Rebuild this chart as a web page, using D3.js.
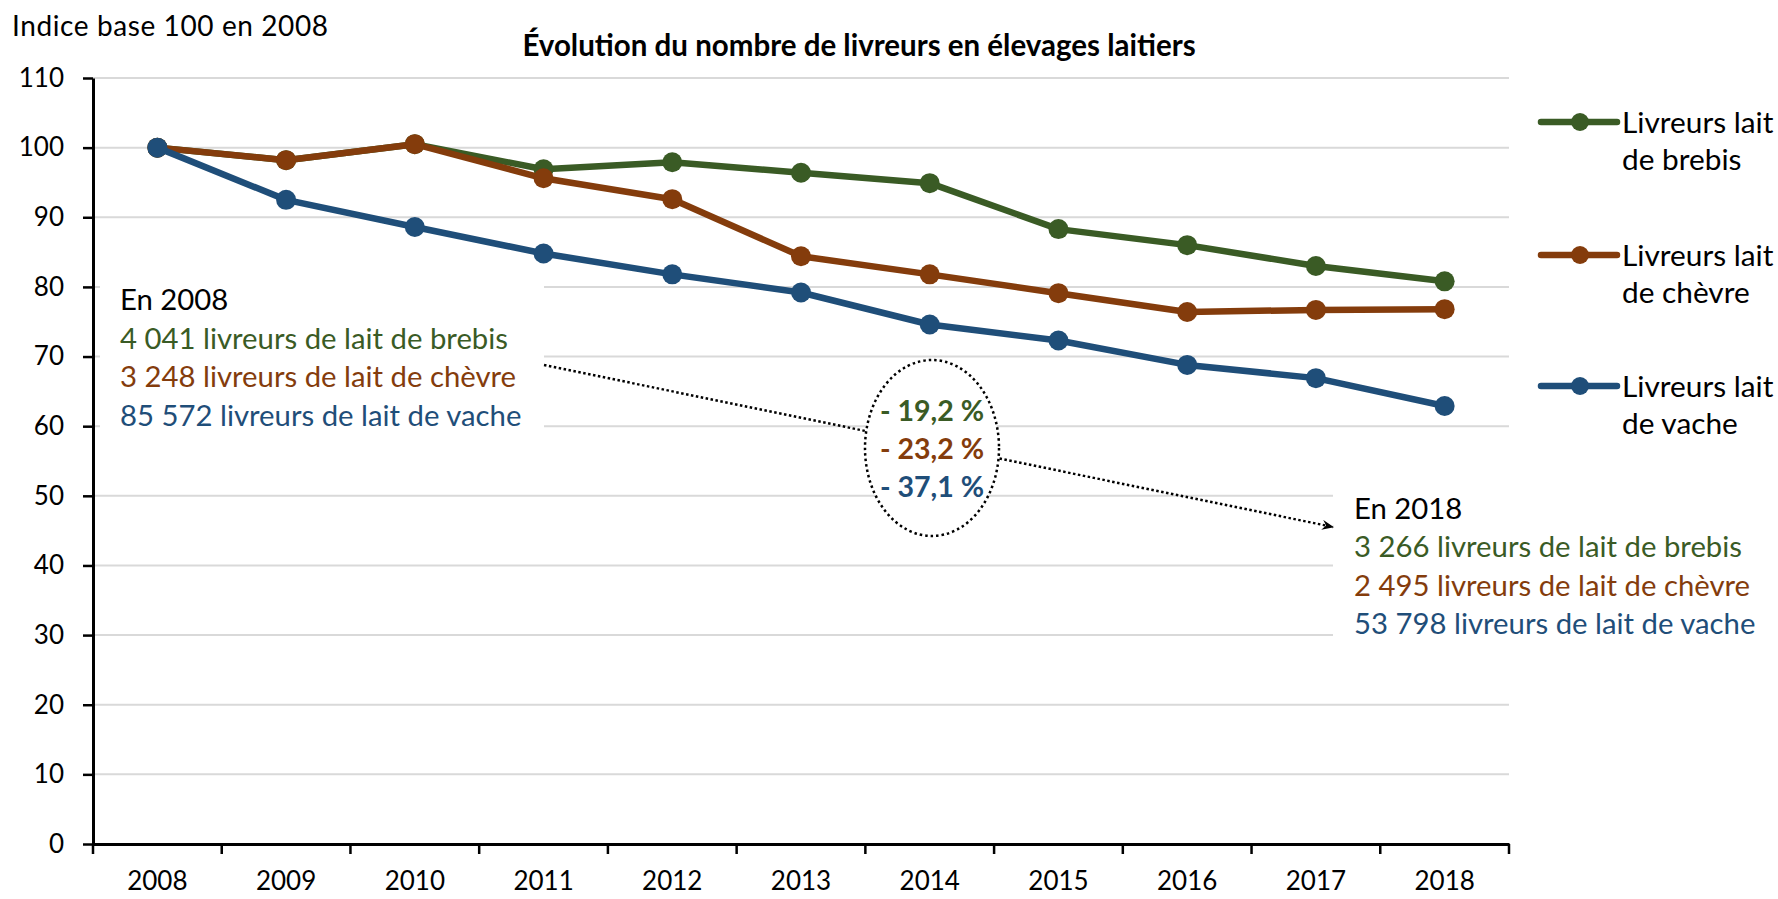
<!DOCTYPE html>
<html>
<head>
<meta charset="utf-8">
<script src="https://cdn.jsdelivr.net/npm/d3@7"></script>
<style>
  html, body { margin: 0; padding: 0; background: #fff; }
  svg { display: block; font-family: Lato, "Open Sans", sans-serif; }
</style>
</head>
<body>
<svg id="chart" width="1778" height="899"></svg>
<script>
// ---------- data ----------
const years = ["2008","2009","2010","2011","2012","2013","2014","2015","2016","2017","2018"];
const brebis = [100, 98.2, 100.5, 96.9, 97.9, 96.4, 94.9, 88.3, 86.0, 83.0, 80.8];
const chevre = [100, 98.2, 100.5, 95.6, 92.6, 84.4, 81.8, 79.1, 76.4, 76.7, 76.8];
const vache  = [100, 92.5, 88.6, 84.8, 81.8, 79.2, 74.6, 72.3, 68.8, 66.9, 62.9];
const yTicks = [0,10,20,30,40,50,60,70,80,90,100,110];
const seriesLabels = [["Livreurs lait","de brebis"],["Livreurs lait","de chèvre"],["Livreurs lait","de vache"]];
const seriesColors = ["#3a5b25", "#843c0c", "#1f4e79"];
const text2008 = ["En 2008","4 041 livreurs de lait de brebis","3 248 livreurs de lait de chèvre","85 572 livreurs de lait de vache"];
const text2018 = ["En 2018","3 266 livreurs de lait de brebis","2 495 livreurs de lait de chèvre","53 798 livreurs de lait de vache"];
const changes = ["- 19,2 %","- 23,2 %","- 37,1 %"];
const textColors = ["#000000", "#3a5b25", "#843c0c", "#1f4e79"];
const titleText = "Évolution du nombre de livreurs en élevages laitiers";
const yAxisTitle = "Indice base 100 en 2008";

const series = [brebis, chevre, vache];

// ---------- layout ----------
const svg = d3.select("#chart");
const plotLeft = 93, plotRight = 1509, plotTop = 78, plotBottom = 844;

const x = d3.scaleBand().domain(years).range([plotLeft, plotRight]).padding(0);
const y = d3.scaleLinear().domain([0, 110]).range([plotBottom, plotTop]);
const cx = d => x(d) + x.bandwidth() / 2;

// gridlines
svg.append("g").selectAll("line")
  .data(yTicks.filter(t => t > 0))
  .join("line")
  .attr("x1", plotLeft).attr("x2", plotRight)
  .attr("y1", d => y(d)).attr("y2", d => y(d))
  .attr("stroke", "#d9d9d9").attr("stroke-width", 2);

// white boxes behind annotation texts
svg.append("rect").attr("x", 100).attr("y", 272).attr("width", 444).attr("height", 168).attr("fill", "#fff");
svg.append("rect").attr("x", 1333).attr("y", 480).attr("width", 240).attr("height", 170).attr("fill", "#fff");

// dotted arrow
svg.append("defs").append("marker")
  .attr("id", "arrow").attr("viewBox", "0 0 12 10").attr("refX", 11).attr("refY", 5)
  .attr("markerWidth", 12).attr("markerHeight", 10).attr("markerUnits", "userSpaceOnUse")
  .attr("orient", "auto")
  .append("path").attr("d", "M0,0 L12,5 L0,10 L4,5 Z").attr("fill", "#000");
svg.append("line")
  .attr("x1", 544).attr("y1", 365).attr("x2", 1333).attr("y2", 527)
  .attr("stroke", "#000").attr("stroke-width", 2.5)
  .attr("stroke-dasharray", "2.5 2.5")
  .attr("marker-end", "url(#arrow)");

// ellipse
svg.append("ellipse")
  .attr("cx", 932).attr("cy", 448).attr("rx", 67).attr("ry", 88)
  .attr("fill", "#fff").attr("stroke", "#000").attr("stroke-width", 2.5)
  .attr("stroke-dasharray", "2.5 3");

svg.append("g").selectAll("text").data(changes).join("text")
  .attr("x", 932).attr("y", (d, i) => 421 + i * 38)
  .attr("text-anchor", "middle")
  .attr("font-size", 28.5).attr("font-weight", "bold")
  .attr("fill", (d, i) => seriesColors[i])
  .text(d => d);

// annotation text blocks
svg.append("g").selectAll("text").data(text2008).join("text")
  .attr("x", 120).attr("y", (d, i) => 310 + i * 38.5)
  .attr("font-size", 29.3).attr("fill", (d, i) => textColors[i])
  .text(d => d);
svg.append("g").selectAll("text").data(text2018).join("text")
  .attr("x", 1354).attr("y", (d, i) => 519 + i * 38.3)
  .attr("font-size", 29.3).attr("fill", (d, i) => textColors[i])
  .text(d => d);

// axes
const yAxis = svg.append("g")
  .attr("transform", `translate(${plotLeft},0)`)
  .call(d3.axisLeft(y).tickValues(yTicks).tickSize(10).tickPadding(19).tickSizeOuter(0));
const xAxis = svg.append("g")
  .attr("transform", `translate(0,${plotBottom})`)
  .call(d3.axisBottom(x).tickSize(0).tickPadding(28).tickSizeOuter(0));
[yAxis, xAxis].forEach(g => {
  g.select(".domain").attr("stroke", "#000").attr("stroke-width", 3);
  g.selectAll(".tick line").attr("stroke", "#000").attr("stroke-width", 2.5);
  g.selectAll(".tick text").attr("font-family", "Lato, sans-serif").attr("font-size", 26).attr("fill", "#000");
});
// x tick marks at category boundaries
xAxis.append("g").selectAll("line")
  .data(years.map(d => x(d)).concat([plotRight]))
  .join("line")
  .attr("x1", d => d).attr("x2", d => d).attr("y1", 0).attr("y2", 10)
  .attr("stroke", "#000").attr("stroke-width", 2.5);

// series
const line = d3.line().x((d, i) => cx(years[i])).y(d => y(d));
series.forEach((s, k) => {
  const g = svg.append("g");
  g.append("path").datum(s)
    .attr("d", line).attr("fill", "none")
    .attr("stroke", seriesColors[k]).attr("stroke-width", 6.5)
    .attr("stroke-linejoin", "round");
  g.selectAll("circle").data(s).join("circle")
    .attr("cx", (d, i) => cx(years[i])).attr("cy", d => y(d)).attr("r", 10)
    .attr("fill", seriesColors[k]);
});

// legend
const legendY = [122, 255, 386];
seriesLabels.forEach((lab, k) => {
  const g = svg.append("g").attr("transform", `translate(0,${legendY[k]})`);
  g.append("line").attr("x1", 1541).attr("x2", 1617).attr("y1", 0).attr("y2", 0)
    .attr("stroke", seriesColors[k]).attr("stroke-width", 6.5).attr("stroke-linecap", "round");
  g.append("circle").attr("cx", 1580).attr("cy", 0).attr("r", 9).attr("fill", seriesColors[k]);
  g.selectAll("text").data(lab).join("text")
    .attr("x", 1622).attr("y", (d, i) => 11 + i * 37)
    .attr("font-size", 29.8).attr("fill", "#000").text(d => d);
});

// titles
svg.append("text").attr("x", 859).attr("y", 56).attr("text-anchor", "middle")
  .attr("font-size", 29.5).attr("font-weight", "bold").attr("fill", "#000").text(titleText);
svg.append("text").attr("x", 12).attr("y", 36)
  .attr("font-size", 28).attr("letter-spacing", 0.6).attr("fill", "#000").text(yAxisTitle);
</script>
</body>
</html>
